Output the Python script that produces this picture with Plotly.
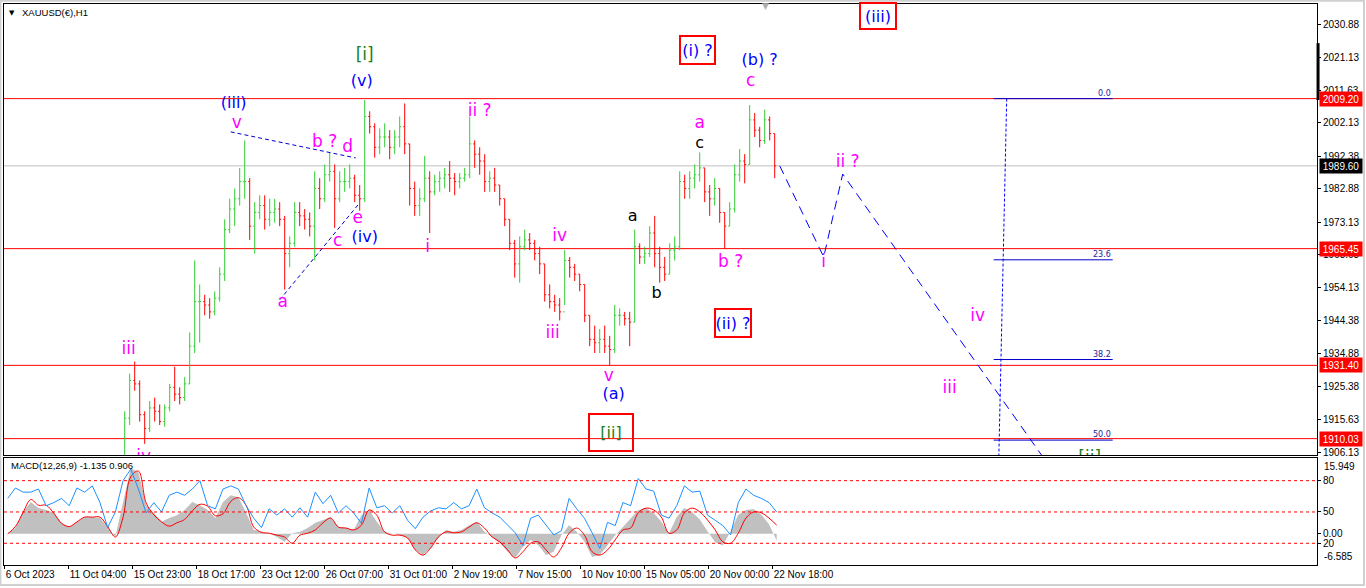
import plotly.graph_objects as go

# ---------------- price data (H1 bars, sampled every 5 bars) ----------------
bar_start = 120
bar_step = 5
first_open = 1905
highs = [1918, 1929, 1932.5, 1927, 1918, 1921, 1922, 1920, 1920, 1926,
         1931, 1925, 1928, 1941, 1962, 1955, 1952, 1951, 1953, 1960,
         1974, 1980, 1983, 1989, 1997, 1986, 1979, 1981, 1981, 1980,
         1980, 1979, 1975, 1969, 1979, 1979, 1977, 1976, 1988, 1986,
         1990, 1993.5, 1990, 1988, 1989, 1990, 1987, 1984, 2008.8, 2005.5,
         2002, 2000.5, 2002, 2000, 2000, 2004, 2007.8, 1996, 1985, 1983,
         1992.5, 1988, 1987, 1988, 1989, 1991, 1987.5, 1987.5, 1989, 2004,
         1997, 1995, 1993, 1988, 1989, 1984, 1980, 1974, 1968, 1969,
         1971, 1970, 1968, 1966, 1961, 1955, 1952, 1951, 1965, 1963,
         1961, 1958, 1955, 1946, 1943, 1942, 1943, 1940, 1949, 1948,
         1947, 1947, 1971, 1967, 1966, 1972, 1975, 1966, 1963, 1967,
         1969, 1988, 1987, 1988, 1990, 1993.5, 1989, 1984, 1986, 1983,
         1976, 1979, 1990, 1994.5, 1993, 2007.3, 2005, 2001, 2006, 2004, 1999]
lows = [1900, 1914, 1924, 1915, 1908.5, 1912, 1915, 1914, 1913.5, 1918,
        1921, 1920, 1921, 1926, 1935, 1938, 1946, 1945, 1946, 1950,
        1956, 1970, 1972, 1978, 1980, 1968, 1964, 1974, 1971, 1972,
        1973, 1972, 1953.5, 1960, 1966, 1972, 1971, 1969, 1962, 1977,
        1979, 1985, 1971.5, 1979, 1982, 1983, 1979, 1976.5, 1979, 1999,
        1992, 1993, 1995, 1991.5, 1993, 1995, 1993, 1978, 1975, 1975,
        1979, 1970, 1981, 1982, 1983, 1982, 1981, 1983, 1985, 1986,
        1989, 1987, 1982, 1982, 1982, 1978, 1972, 1965, 1957, 1955.5,
        1965, 1965, 1962, 1958, 1950, 1948, 1947, 1944.5, 1949, 1957,
        1956, 1953, 1944, 1937, 1935, 1935, 1935, 1931.5, 1935, 1943,
        1943, 1937, 1944, 1961, 1961, 1963, 1960, 1955.5, 1956, 1958,
        1962, 1965, 1980, 1980, 1983, 1985, 1979, 1975, 1978, 1973,
        1965.5, 1972, 1976, 1985, 1984.5, 1990, 1998, 1995, 1996, 1997, 1986]
closes = [1916, 1927, 1926, 1917, 1913, 1919, 1918, 1915, 1919, 1925,
          1923, 1922, 1926, 1937, 1950, 1950, 1949, 1947, 1951, 1958,
          1971, 1977, 1980, 1985, 1985, 1972, 1976, 1978, 1974, 1976,
          1977, 1974, 1964, 1967, 1976, 1975, 1974, 1972, 1983, 1980,
          1987, 1988, 1980, 1985, 1985, 1986, 1981, 1980, 2004, 2001,
          1995, 1998, 1998, 1995, 1998, 2001, 1996, 1983, 1978, 1980,
          1986, 1982, 1985, 1986, 1987, 1986, 1985, 1986, 1987, 1996,
          1993, 1991, 1985, 1986, 1984, 1980, 1974, 1967, 1961, 1966,
          1968, 1967, 1964, 1961, 1952, 1950, 1949, 1947, 1962, 1960,
          1958, 1955, 1946, 1939, 1938, 1939, 1937, 1936, 1946, 1946,
          1945, 1944, 1966, 1963, 1964, 1970, 1964, 1960, 1958, 1965,
          1966, 1985, 1983, 1986, 1987, 1989, 1982, 1980, 1983, 1976,
          1972, 1977, 1987, 1991, 1990, 2003, 2000, 1997, 2003, 1999, 1989.6]
opens = [first_open] + closes[:-1]
bars = [bar_start + bar_step * i for i in range(len(closes))]

# ---------------- indicator data ----------------
macd_start = 3
macd_step = 7.69
macd_hist = [0, 1.2, 4.6, 6.7, 5.4, 5.0, 4.4, 2.3, 1.4, 2.5,
             3.5, 3.5, 3.3, 1.4, -0.7, 6.7, 13.8, 13.0, 6.0, 4.4,
             2.5, 3.3, 3.9, 5.0, 6.7, 6.0, 5.0, 3.3, 6.7, 8.1,
             7.7, 4.4, 0.8, 0.4, 0.1, -0.7, -1.7, 0.1, 0.4, 1.2,
             2.3, 2.9, 3.5, 1.4, 1.2, 0.8, 3.9, 5.0, 2.5, 0.4,
             0.1, -0.3, -0.9, -3.4, -4.5, -3.0, -0.9, 0.8, 0.4, 0.8,
             1.8, 2.5, 0.4, -0.7, -2.0, -3.8, -5.1, -2.8, -1.3, -2.4,
             -4.5, -3.8, -0.3, 1.8, 0.4, -1.7, -4.9, -4.5, -2.4, -0.3,
             1.4, 3.3, 5.0, 5.4, 4.4, 2.5, 0.1, 3.5, 5.4, 4.6,
             3.0, 0.5, -1.8, -2.5, 0.5, 4.0, 5.0, 5.2, 4.0, 2.0, -1.5]
macd_signal = [0.0, 1.5, 4.5, 7.2, 6.0, 6.0, 4.3, 2.2, 1.5, 2.5,
               3.5, 3.5, 3.5, 1.5, -0.7, 3.5, 12.0, 13.2, 6.5, 4.0,
               2.5, 1.6, 2.3, 3.0, 4.8, 6.2, 5.8, 3.8, 4.2, 6.8,
               7.6, 6.0, 1.4, 0.3, 0.1, -0.3, -0.7, -2.0, -0.3, 0.1,
               0.8, 2.3, 3.3, 1.4, 1.2, 0.8, 1.8, 5.0, 3.9, 0.4,
               -0.3, -0.3, -0.9, -3.4, -4.5, -3.0, -0.7, 0.4, 0.2, 0.4,
               1.4, 2.3, 1.2, -0.7, -1.7, -3.4, -5.1, -3.8, -2.0, -1.7,
               -3.4, -4.9, -3.0, 0.1, 1.2, -0.3, -3.8, -4.5, -3.4, -1.3,
               0.8, 1.2, 4.4, 5.4, 5.0, 3.5, 0.1, 0.8, 4.4, 5.4,
               4.6, 2.9, 0.8, -1.7, -2.0, 0.1, 3.3, 4.6, 4.4, 3.3, 1.8]
osc_line = [63, 73, 69, 69, 72, 56, 59, 63, 56, 73,
            69, 75, 59, 35, 50, 80, 91, 72, 49, 59,
            50, 66, 69, 66, 72, 80, 56, 53, 72, 75,
            72, 56, 44, 35, 53, 47, 53, 45, 54, 45,
            69, 58, 66, 49, 56, 49, 39, 73, 54, 56,
            49, 56, 42, 34, 45, 51, 54, 53, 59, 53,
            56, 72, 54, 49, 45, 37, 30, 18, 44, 47,
            37, 28, 32, 63, 53, 44, 30, 15, 40, 37,
            59, 56, 82, 72, 70, 47, 44, 56, 75, 69,
            70, 47, 42, 37, 28, 59, 72, 66, 63, 59, 50]
macd_x = [macd_start + macd_step * i for i in range(len(macd_hist))]
osc_levels = [80, 50, 20]

# ---------------- axes ----------------
time_ticks = [0, 64, 128, 192, 256, 320, 384, 448, 512, 576, 640, 704, 768]
time_labels = ["6 Oct 2023", "11 Oct 04:00", "15 Oct 23:00", "18 Oct 17:00",
               "23 Oct 12:00", "26 Oct 07:00", "31 Oct 01:00", "2 Nov 19:00",
               "7 Nov 15:00", "10 Nov 10:00", "15 Nov 05:00", "20 Nov 00:00",
               "22 Nov 18:00"]
price_ticks = [2030.88, 2021.13, 2011.63, 2002.13, 1992.38, 1982.88, 1973.13,
               1963.63, 1954.13, 1944.38, 1934.88, 1925.38, 1915.63, 1906.13]
level_prices = [2009.20, 1965.45, 1931.40, 1910.03]
bid_price = 1989.60

# Fibonacci retracement tool
fib_high, fib_low = 2009.20, 1810.0
fib_levels = [0.0, 23.6, 38.2, 50.0]
fib_bar_from, fib_bar_to = 989, 1108
fib_trend_bars = [1002, 987]

# Elliott wave drawings
proj_bars = [775, 819, 838, 1058]
proj_prices = [1989.6, 1963.0, 1987.2, 1896.5]
tri_upper_bars, tri_upper_prices = [226, 351], [1999.5, 1991.9]
tri_lower_bars, tri_lower_prices = [275, 355], [1950.5, 1978.8]

MAG, BLU, BLK, GRN = "#FF00FF", "#0000FF", "#000000", "#1B7F1B"
wave_text = ["iii", "iv", "v", "b ?", "d", "e", "c", "a", "i", "ii ?", "iv", "iii",
             "v", "a", "b ?", "c", "ii ?", "i", "iv", "iii",
             "(v)", "(iii)", "(iv)", "(a)", "(b) ?",
             "a", "b", "c", "[i]", "[ii]"]
wave_bar = [124, 139, 232, 320, 343, 353, 333, 278, 423, 475, 555, 548,
            604, 695, 726, 746, 843, 819, 973, 945,
            357, 229, 360, 609, 755,
            628, 652, 695, 360, 1085]
wave_price = [1935.9, 1904.6, 2001.8, 1996.3, 1995.0, 1974.1, 1967.4, 1949.6, 1965.7, 2005.3, 1968.9, 1940.6,
              1928.0, 2001.8, 1961.3, 2014.0, 1990.5, 1961.3, 1945.5, 1924.5,
              2014.0, 2007.6, 1968.6, 1922.8, 2020.2,
              1974.8, 1952.2, 1996.0, 2021.6, 1904.2]
wave_color = [MAG] * 20 + [BLU] * 5 + [BLK] * 3 + [GRN] * 2
wave_size = [17] * 20 + [16] * 5 + [16] * 3 + [17] * 2

boxed_text = ["(i) ?", "(iii)", "(ii) ?", "[ii]"]
boxed_bar = [693, 873, 728, 606]
boxed_price = [2023.4, 2033.3, 1943.8, 1911.7]
boxed_color = [BLU, BLU, BLU, GRN]
boxed_w = [33, 34, 34, 42]
boxed_h = [26, 24, 26, 35]

# ---------------- figure ----------------
fig = go.Figure()

fig.add_trace(go.Ohlc(
    x=bars, open=opens, high=highs, low=lows, close=closes,
    increasing=dict(line=dict(color="#33CC33", width=1)),
    decreasing=dict(line=dict(color="#FF0000", width=1)),
    tickwidth=0.3, xaxis="x", yaxis="y", showlegend=False, hoverinfo="skip"))

for bx, by in [(tri_upper_bars, tri_upper_prices), (tri_lower_bars, tri_lower_prices)]:
    fig.add_trace(go.Scatter(x=bx, y=by, mode="lines", xaxis="x", yaxis="y",
                             line=dict(color="#0000CC", width=1, dash="4px,3px"),
                             showlegend=False, hoverinfo="skip"))

fig.add_trace(go.Scatter(x=proj_bars, y=proj_prices, mode="lines", xaxis="x", yaxis="y",
                         line=dict(color="#0000FF", width=1, dash="9px,6px"),
                         showlegend=False, hoverinfo="skip"))

fig.add_trace(go.Scatter(x=fib_trend_bars, y=[fib_high, fib_low], mode="lines",
                         xaxis="x", yaxis="y",
                         line=dict(color="#0000FF", width=1, dash="3px,2px"),
                         showlegend=False, hoverinfo="skip"))

fig.add_trace(go.Scatter(x=wave_bar, y=wave_price, mode="text", text=wave_text,
                         textposition="middle center", cliponaxis=True,
                         textfont=dict(family="DejaVu Sans", size=wave_size, color=wave_color),
                         xaxis="x", yaxis="y", showlegend=False, hoverinfo="skip"))

# MACD panel
fig.add_trace(go.Scatter(x=macd_x, y=macd_hist, mode="lines", fill="tozeroy",
                         fillcolor="#C0C0C0", line=dict(color="#C0C0C0", width=0),
                         xaxis="x2", yaxis="y2", showlegend=False, hoverinfo="skip"))
fig.add_trace(go.Scatter(x=macd_x, y=macd_signal, mode="lines",
                         line=dict(color="#FF0000", width=1, shape="spline"),
                         xaxis="x2", yaxis="y2", showlegend=False, hoverinfo="skip"))
fig.add_trace(go.Scatter(x=macd_x, y=osc_line, mode="lines",
                         line=dict(color="#1E90FF", width=1),
                         xaxis="x2", yaxis="y3", showlegend=False, hoverinfo="skip"))

shapes = []
for lp in level_prices:
    shapes.append(dict(type="line", xref="x domain", x0=0, x1=1, yref="y", y0=lp, y1=lp,
                       line=dict(color="#FF0000", width=1), layer="below"))
shapes.append(dict(type="line", xref="x domain", x0=0, x1=1, yref="y", y0=bid_price, y1=bid_price,
                   line=dict(color="#C0C0C0", width=1), layer="below"))
for lv in fib_levels:
    fp = fib_high - (fib_high - fib_low) * lv / 100.0
    shapes.append(dict(type="line", xref="x", x0=fib_bar_from, x1=fib_bar_to, yref="y",
                       y0=fp, y1=fp, line=dict(color="#0000CC", width=1)))
for ol in osc_levels:
    shapes.append(dict(type="line", xref="x2 domain", x0=0, x1=1, yref="y3", y0=ol, y1=ol,
                       line=dict(color="#FF0000", width=1, dash="3px,3px")))
# chart-shift marker on price scale
shapes.append(dict(type="line", xref="paper", x0=1.0008, x1=1.0008, yref="y", y0=2008.8, y1=2025.4,
                   line=dict(color="#000000", width=3)))
# outer frame
shapes.append(dict(type="rect", xref="paper", yref="paper", x0=-0.0027, x1=1.0358, y0=-0.0357, y1=1.006,
                   line=dict(color="#D0D0D0", width=2)))

annotations = []
for lv in fib_levels:
    fp = fib_high - (fib_high - fib_low) * lv / 100.0
    annotations.append(dict(x=fib_bar_to, y=fp, xref="x", yref="y", text=f"{lv:.1f}",
                            xanchor="right", yanchor="bottom", showarrow=False, yshift=-1,
                            font=dict(family="DejaVu Sans", size=8, color="#1C1C9C")))
for t, bx, by, c, w, h in zip(boxed_text, boxed_bar, boxed_price, boxed_color, boxed_w, boxed_h):
    annotations.append(dict(x=bx, y=by, xref="x", yref="y", text=t, showarrow=False,
                            font=dict(family="DejaVu Sans", size=16, color=c),
                            bordercolor="#FF0000", borderwidth=2, borderpad=0,
                            width=w, height=h, bgcolor="rgba(255,255,255,0)"))
for lp in level_prices:
    annotations.append(dict(x=1, y=lp, xref="paper", yref="y", text=f"{lp:.2f}", showarrow=False,
                            xanchor="left", xshift=2, bgcolor="#FF0000", width=40, height=12,
                            borderpad=1, font=dict(family="Liberation Sans", size=10, color="#FFFFFF")))
annotations.append(dict(x=1, y=bid_price, xref="paper", yref="y", text=f"{bid_price:.2f}", showarrow=False,
                        xanchor="left", xshift=2, bgcolor="#000000", width=40, height=12,
                        borderpad=1, font=dict(family="Liberation Sans", size=10, color="#FFFFFF")))
annotations.append(dict(x=1, y=1, xref="paper", yref="y2 domain", text="15.949", showarrow=False,
                        xanchor="left", yanchor="top", xshift=5, yshift=-1,
                        font=dict(family="Liberation Sans", size=10, color="#000000")))
annotations.append(dict(x=1, y=0, xref="paper", yref="y2 domain", text="-6.585", showarrow=False,
                        xanchor="left", yanchor="bottom", xshift=5, yshift=1,
                        font=dict(family="Liberation Sans", size=10, color="#000000")))
annotations.append(dict(x=0.0122, y=0.984, xref="paper", yref="paper", text="XAUUSD(€),H1",
                        showarrow=False, xanchor="left", yanchor="middle",
                        font=dict(family="Liberation Sans", size=9.5, color="#000000")))
annotations.append(dict(x=0.0058, y=0.984, xref="paper", yref="paper", text="▼",
                        showarrow=False, xanchor="center", yanchor="middle",
                        font=dict(family="DejaVu Sans", size=7, color="#000000")))
annotations.append(dict(x=0.0038, y=0.1765, xref="paper", yref="paper", text="MACD(12,26,9) -1.135 0.906",
                        showarrow=False, xanchor="left", yanchor="middle",
                        font=dict(family="Liberation Sans", size=9.5, color="#000000")))
annotations.append(dict(x=0.5796, y=0.996, xref="paper", yref="paper", text="▼",
                        showarrow=False, xanchor="center", yanchor="middle",
                        font=dict(family="DejaVu Sans", size=9, color="#B0B0B0")))

axis_font = dict(family="Liberation Sans", size=10, color="#000000")
fig.update_layout(
    width=1366, height=588,
    margin=dict(l=4, r=49, t=4, b=23, autoexpand=False),
    paper_bgcolor="#FFFFFF", plot_bgcolor="#FFFFFF",
    showlegend=False, hovermode=False,
    shapes=shapes, annotations=annotations,
    xaxis=dict(domain=[0, 1], anchor="y", range=[-0.7, 1312.3], showticklabels=False,
               showgrid=False, zeroline=False, showline=True, mirror=True, automargin=False,
               linecolor="#000000", linewidth=1, ticks="", rangeslider=dict(visible=False)),
    yaxis=dict(domain=[0.1961, 1], anchor="x", side="right", range=[1905.26, 2036.8],
               tickvals=price_ticks, ticktext=[f"{p:.2f}" for p in price_ticks], automargin=False,
               ticks="outside", ticklen=3, tickcolor="#000000", tickfont=axis_font,
               showgrid=False, zeroline=False, showline=True, mirror=True,
               linecolor="#000000", linewidth=1),
    xaxis2=dict(domain=[0, 1], anchor="y2", matches="x", range=[-0.7, 1312.3],
                tickvals=time_ticks, ticktext=time_labels, ticks="outside", ticklen=3,
                tickangle=0, automargin=False,
                tickcolor="#000000", ticklabelposition="outside right", tickfont=axis_font,
                showgrid=False, zeroline=False, showline=True, mirror=True,
                linecolor="#000000", linewidth=1),
    yaxis2=dict(domain=[0, 0.1907], anchor="x2", side="right", range=[-6.585, 15.949],
                tickvals=[0], ticktext=["0.00"], ticks="outside", ticklen=3, tickcolor="#000000",
                tickfont=axis_font, showgrid=False, zeroline=False, showline=True, mirror=True,
                linecolor="#000000", linewidth=1, automargin=False),
    yaxis3=dict(overlaying="y2", anchor="x2", side="right", range=[-0.8, 101.7],
                tickvals=osc_levels, ticktext=[str(v) for v in osc_levels], ticks="outside",
                ticklen=3, tickcolor="#000000", tickfont=axis_font, showgrid=False,
                zeroline=False, showline=False, automargin=False),
)

fig.write_html("out.html", config={"displayModeBar": False},
               post_script="document.body.style.margin='0px';")
